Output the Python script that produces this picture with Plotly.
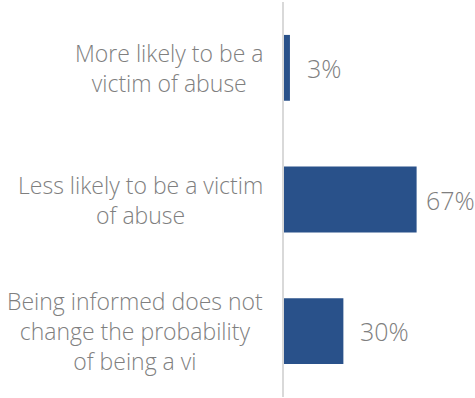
import plotly.graph_objects as go

categories = [
    "More likely to be a<br>victim of abuse",
    "Less likely to be a victim<br>of abuse",
    "Being informed does not<br>change the probability<br>of being a vi",
]
values = [3, 67, 30]
value_labels = ["3%", "67%", "30%"]

W, H = 475, 398
LEFT = 284
X_MAX = 96.5
BAR_COLOR = "#29518a"
TEXT_COLOR = "#7f7f7f"
FONT = "'Open Sans', sans-serif"

fig = go.Figure(
    go.Bar(
        x=values,
        y=categories,
        orientation="h",
        width=0.5,
        marker=dict(color=BAR_COLOR, line=dict(width=0)),
        hoverinfo="skip",
    )
)

annotations = []
# category labels, centred block to the left of the axis
for cat in categories:
    annotations.append(dict(
        x=0, xref="paper", y=cat, yref="y",
        text=cat, showarrow=False, xanchor="right", align="center",
        xshift=-19, font=dict(family=FONT, size=23, color=TEXT_COLOR, weight=300),
    ))
# value labels just past the bar ends, pulled in when they would run off the edge
ppu = (W - LEFT) / X_MAX
for cat, v, lab in zip(categories, values, value_labels):
    end_px = LEFT + v * ppu
    shift = min(15, W - 51 - end_px)
    annotations.append(dict(
        x=v, xref="x", y=cat, yref="y",
        text=lab, showarrow=False, xanchor="left",
        xshift=shift, font=dict(family=FONT, size=25, color=TEXT_COLOR, weight=300),
    ))

fig.update_layout(
    width=W, height=H,
    margin=dict(l=LEFT, r=0, t=2, b=1),
    plot_bgcolor="white", paper_bgcolor="white",
    showlegend=False,
    annotations=annotations,
    xaxis=dict(range=[0, X_MAX], visible=False, fixedrange=True),
    yaxis=dict(
        categoryorder="array", categoryarray=categories,
        autorange="reversed", showticklabels=False,
        showline=True, linecolor="#d9d9d9", linewidth=1.5,
        showgrid=False, zeroline=False, ticks="",
    ),
)

fig.write_html("out.html")
